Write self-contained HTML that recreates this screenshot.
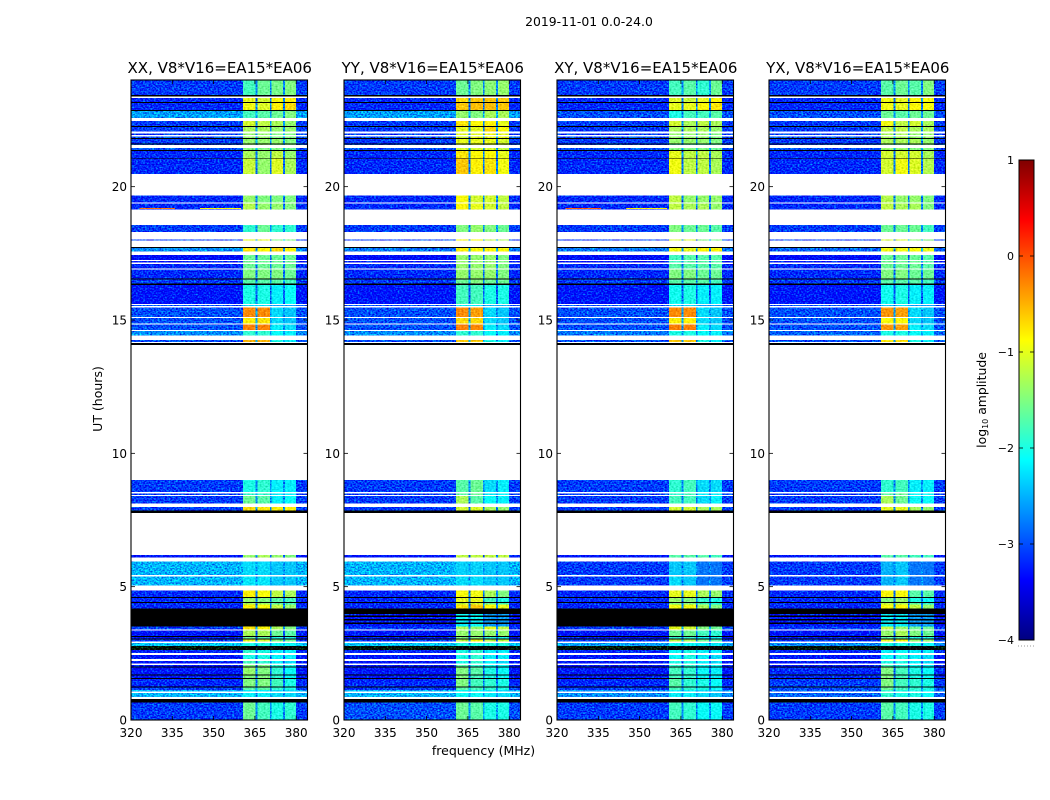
<!DOCTYPE html>
<html lang="en">
<head>
<meta charset="utf-8">
<title>2019-11-01 0.0-24.0</title>
<style>
html,body{margin:0;padding:0;background:#fff}
svg{display:block}
text{font-family:"DejaVu Sans","Liberation Sans",sans-serif;fill:#000}
</style>
</head>
<body>
<svg id="chart" xmlns="http://www.w3.org/2000/svg" width="1050" height="800" viewBox="0 0 1050 800">
<defs>
<filter id="speckle" x="0" y="0" width="1" height="1" color-interpolation-filters="sRGB">
<feTurbulence type="fractalNoise" baseFrequency="0.55 0.7" numOctaves="1" seed="7" result="t"/>
<feColorMatrix in="t" type="matrix" values="0 0 0 0 .5  1 0 0 0 0  .3 0 0 0 .35  0 0 0 0 1" result="n"/>
<feComposite in="SourceGraphic" in2="n" operator="arithmetic" k1="0" k2="1" k3="1.7" k4="-.85" result="c"/>
<feComposite in="c" in2="SourceGraphic" operator="in"/>
</filter>
<filter id="speckle-soft" x="0" y="0" width="1" height="1" color-interpolation-filters="sRGB">
<feTurbulence type="fractalNoise" baseFrequency="0.5 0.65" numOctaves="1" seed="3" result="t"/>
<feColorMatrix in="t" type="matrix" values="1 0 0 0 0  1 0 0 0 0  1 0 0 0 0  0 0 0 0 1" result="n"/>
<feComposite in="SourceGraphic" in2="n" operator="arithmetic" k1="0" k2="1" k3=".5" k4="-.25" result="c"/>
<feComposite in="c" in2="SourceGraphic" operator="in"/>
</filter>
<linearGradient id="jet-gradient" x1="0" y1="1" x2="0" y2="0"></linearGradient>
</defs>
<text x="589" y="26" font-size="12.4" text-anchor="middle">2019-11-01 0.0-24.0</text>
<text x="483.5" y="755" font-size="12.5" text-anchor="middle">frequency (MHz)</text>
<text transform="translate(102,399) rotate(-90)" font-size="12.5" text-anchor="middle">UT (hours)</text>
<g id="panels"></g>
<g id="colorbar"></g>
</svg>
<script>
const panelTitles = ["XX, V8*V16=EA15*EA06", "YY, V8*V16=EA15*EA06", "XY, V8*V16=EA15*EA06", "YX, V8*V16=EA15*EA06"];
const xTicks = [320, 335, 350, 365, 380];
const yTicks = [0, 5, 10, 15, 20];
const colorTicks = [-4, -3, -2, -1, 0, 1];
const colorTickLabels = ["\u22124", "\u22123", "\u22122", "\u22121", "0", "1"];
const channelEdgesMHz = [[360.7, 365.2], [365.9, 370.4], [371, 375.2], [375.9, 380]];
const rowTopHours = [24,23.44,23.33,23.17,23.13,22.87,22.83,22.47,22.27,22.24,22,21.89,21.82,21.78,21.62,21.58,21.45,21.37,21.34,21.08,21.05,19.67,19.36,18.56,18.02,17.73,17.7,17.44,17.21,17.1,16.9,16.56,16.51,16.36,16.32,15.56,15.47,15.07,14.83,14.59,14.25,14.13,9,8.5,8.4,7.99,7.85,6.19,5.95,5.38,4.85,4.62,4.57,4.42,4.38,4.34,4.19,4.12,3.97,3.91,3.86,3.79,3.74,3.65,3.6,3.5,3.35,3.15,3.11,3.06,3.02,2.89,2.77,2.62,2.44,2.22,2.06,2,1.96,1.71,1.66,1.57,1.54,1.25,1.21,1.12,1.02,0.79,0.66];
const rowBottomHours = [23.44,23.39,23.17,23.13,22.87,22.83,22.58,22.27,22.24,22.06,21.94,21.82,21.78,21.62,21.58,21.56,21.37,21.34,21.08,21.05,20.47,19.4,19.15,18.3,17.98,17.7,17.56,17.25,17.15,16.94,16.56,16.51,16.36,16.32,15.6,15.52,15.11,14.87,14.62,14.41,14.18,14.07,8.55,8.44,8.11,7.85,7.77,6.09,5.43,5.04,4.62,4.57,4.42,4.38,4.34,4.19,4.12,3.97,3.91,3.86,3.79,3.74,3.65,3.6,3.5,3.4,3.15,3.11,3.06,3.02,2.94,2.77,2.62,2.52,2.29,2.11,2,1.96,1.71,1.66,1.57,1.54,1.25,1.21,1.12,1.06,0.87,0.66,0];
const K = null;
const levelsXX = [
[-3.1,-1.8,-1.6,-1.55,-1.5],K,[-3.2,-1,-1.1,-.9,-.8],K,[-3.2,-.95,-1.05,-.8,-.7],K,[-2.6,-1.8,-1.7,-1.6,-1.5],
[-3.1,-1.1,-1.2,-1.3,-1.4],K,[-3.1,-1.3,-1.3,-1.4,-1.4],[-3.1,-1.4,-1.4,-1.5,-1.5],[-3,-1.4,-1.4,-1.5,-1.5],K,
[-3.1,-1.4,-1.4,-1.4,-1.5],K,[-3,-1.4,-1.4,-1.5,-1.5],[-3,-1.5,-1.5,-1.5,-1.6],K,[-3.2,-1.3,-1.4,-1.2,-1.4],K,
[-3.2,-1.15,-1.4,-1.05,-1.3],[-3.2,-1.4,-1.5,-1.5,-1.5],[-3.2,-1.25,-1.4,-1.4,-1.5],[-3.1,-1.9,-1.6,-1.9,-1.9],
[-3.1,-1,-1,-1.5,-1.5],K,[-2.7,-.75,-.85,-.7,-.85],[-3.4,-1.6,-1.6,-1.6,-1.6],[-3.3,-1.6,-1.6,-1.6,-1.6],
[-3.2,-1.6,-1.6,-1.6,-1.6],[-3.2,-1.5,-1.5,-1.5,-1.6],K,[-3.1,-1.7,-1.7,-1.7,-1.8],K,[-3.3,-2,-2,-2.2,-2.1],
[-3,-2.3,-2.3,-2.6,-2.6],[-3,-.3,-.3,-2.3,-2.4],[-3,-.8,-.75,-2.3,-2.4],[-3,-.25,-.25,-2.2,-2.3],
[-2.7,-1.9,-1.9,-2.1,-2.2],[-3,-.5,-.5,-2,-2.2],K,[-3.1,-2,-1.9,-2.2,-2.2],[-3.1,-1.9,-1.9,-2.2,-2.2],
[-3.1,-1.6,-1.7,-2.2,-2.1],[-3.1,-.7,-.75,-.8,-.8],K,[-3.3,-1.4,-1.3,-1.4,-1.5],[-2.5,-2.3,-2.3,-2.4,-2.4],
[-2.5,-2.25,-2.25,-2.4,-2.4],[-3.2,-.8,-.9,-1.2,-1.3],K,[-3.2,-1.4,-1.5,-1.7,-1.8],K,[-3.2,-1.3,-1.4,-1.7,-1.8],
[-3.2,-.8,-.9,-1.2,-1.4],K,K,K,K,K,K,K,K,K,
[-3.1,-.75,-.85,-1.3,-1.5],[-3.3,-1.3,-1.3,-1.6,-1.7],K,[-3.3,-1.6,-1.7,-2,-2],K,[-3.1,-1,-1.1,-1.5,-1.6],
[-2.4,-2,-2,-2.1,-2.1],[-4.5,-4.5,-4.5,-4.5,-4.5],[-3.2,-1.9,-2,-2.2,-2.2],[-3.3,-2,-2,-2.2,-2.2],[-3.3,-1.8,-1.9,-2.2,-2.3],
[-3.3,-1.5,-1.5,-1.9,-2],K,[-3.3,-1.4,-1.5,-1.9,-2.1],K,[-3.3,-1.5,-1.5,-1.9,-2.1],K,[-3.2,-1.5,-1.5,-1.8,-2],K,
[-3.1,-1.7,-1.7,-1.9,-2],[-2.5,-2.2,-2.2,-2.3,-2.3],[-2.5,-2.2,-2.2,-2.3,-2.3],K,[-3.1,-1.6,-1.8,-2,-1.9]
];
const levelsYY = [
[-3.1,-1.6,-1.5,-1.45,-1.4],K,[-3.2,-.7,-.6,-.6,-.6],K,[-3.2,-.6,-.55,-.55,-.6],K,[-2.6,-1.4,-1.5,-1.3,-1.3],
[-3.1,-.75,-.85,-.8,-1],K,[-3.1,-1,-1,-.7,-.9],[-3.1,-1,-1,-.9,-1],[-3,-1.1,-1,-1,-1],K,
[-3.1,-1,-1,-1,-1.1],K,[-3,-1.1,-1.1,-1.1,-1.2],[-3,-1.1,-1.1,-1.1,-1.2],K,[-3.2,-.75,-.85,-.85,-1],K,
[-3.2,-.6,-.8,-.75,-.95],[-3.2,-.9,-1.1,-1.1,-1.2],[-3.2,-.85,-1,-1.1,-1.2],[-3.1,-1.5,-1.4,-1.5,-1.6],
[-3.1,-.9,-.9,-1.2,-1.3],K,[-2.8,-.8,-.9,-.85,-.9],[-3.4,-1.4,-1.4,-1.4,-1.5],[-3.3,-1.4,-1.4,-1.4,-1.5],
[-3.2,-1.4,-1.4,-1.4,-1.5],[-3.2,-1.4,-1.4,-1.4,-1.5],K,[-3.1,-1.6,-1.5,-1.6,-1.6],K,[-3.3,-1.8,-1.8,-2,-2],
[-3,-2.2,-2.2,-2.5,-2.5],[-3,-.3,-.4,-2.3,-2.4],[-3,-.7,-.7,-2.3,-2.4],[-3,-.25,-.3,-2.2,-2.3],
[-2.7,-1.9,-1.9,-2.1,-2.2],[-3,-.6,-.6,-2,-2.2],K,[-3.1,-1.7,-1.6,-2.3,-2.2],[-3.1,-1.7,-1.6,-2.2,-2.2],
[-3.1,-1.3,-1.7,-2.1,-2.2],[-3.1,-1.1,-1.05,-1.3,-1.4],K,[-3.3,-1.2,-1.2,-1.2,-1.2],[-2.5,-2.35,-2.35,-2.4,-2.4],
[-2.5,-2.3,-2.3,-2.4,-2.4],[-3.2,-.9,-.95,-1.3,-1.5],K,[-3.2,-1,-1,-1.8,-2],K,[-3.2,-1.2,-1.1,-1.6,-1.8],
[-3.2,-.75,-.6,-.85,-1],K,K,[-3.3,-2.1,-2.1,-2.6,-2.6],K,[-3.3,-2.1,-2.1,-2.6,-2.6],K,[-3.3,-2.2,-2.2,-2.6,-2.6],K,[-3.3,-2.2,-2.1,-2.6,-2.6],
[-3.1,-1.3,-1.4,-1,-1.2],[-3.3,-1.4,-1.4,-1.4,-1.4],K,[-3.3,-1.5,-1.5,-1.9,-2],K,[-3.1,-1.2,-.9,-1.2,-1.2],
[-2.4,-2,-2,-2,-2],[-4.5,-4.5,-4.5,-4.5,-4.5],[-3.2,-2,-1.9,-2.2,-2.2],[-3.3,-2,-1.9,-2.2,-2.2],[-3.3,-2,-1.9,-2.2,-2.3],
[-3.3,-1.7,-1.9,-2.1,-2.1],K,[-3.3,-1.5,-1.7,-2,-2.1],K,[-3.3,-1.5,-1.8,-2,-2.1],K,[-3.2,-1.5,-1.8,-1.9,-2],K,
[-3.1,-1.7,-1.8,-1.9,-2],[-2.5,-2.1,-2.1,-2.2,-2.3],[-2.5,-2.1,-2.1,-2.2,-2.3],K,[-3,-1.6,-1.7,-2,-2]
];
const levelsXY = [
[-3.1,-1.8,-1.7,-1.9,-1.6],K,[-3.2,-1.05,-1.15,-1,-.85],K,[-3.2,-1,-1,-.85,-.75],K,[-3,-2,-1.8,-1.8,-1.7],
[-3.1,-1.1,-1.3,-1.2,-1.3],K,[-3.1,-1.3,-1.3,-1.3,-1.4],[-3.1,-1.4,-1.4,-1.4,-1.5],[-3,-1.4,-1.4,-1.4,-1.5],K,
[-3.1,-1.4,-1.4,-1.4,-1.5],K,[-3,-1.7,-1.7,-1.7,-1.7],[-3,-1.5,-1.5,-1.5,-1.6],K,[-3.2,-1,-1.2,-1.2,-1.3],K,
[-3.2,-.95,-1.2,-1.2,-1.3],[-3.2,-1.2,-1.4,-1.4,-1.4],[-3.2,-1.2,-1.3,-1.3,-1.4],[-3.1,-1.5,-1.6,-1.6,-1.7],
[-3.1,-1.1,-1.1,-1.5,-1.5],K,[-2.8,-.95,-1,-.85,-.85],[-3.4,-1.8,-1.7,-1.7,-1.7],[-3.3,-1.8,-1.7,-1.7,-1.7],
[-3.2,-1.7,-1.7,-1.7,-1.7],[-3.2,-1.5,-1.5,-1.6,-1.6],K,[-3.1,-1.7,-1.7,-1.7,-1.8],K,[-3.3,-2.05,-2,-2.2,-2.2],
[-3,-2.3,-2.3,-2.6,-2.6],[-3,-.3,-.3,-2.3,-2.4],[-3,-.8,-.8,-2.3,-2.4],[-3,-.25,-.25,-2.2,-2.3],
[-2.8,-2,-2,-2.1,-2.2],[-3,-.6,-.6,-2,-2.2],K,[-3.1,-1.9,-1.8,-2.3,-2.3],[-3.1,-1.9,-1.8,-2.2,-2.2],
[-3.1,-1.8,-1.8,-2.3,-2.2],[-3.1,-1.1,-1.1,-1.3,-1.3],K,[-3.3,-1.7,-1.7,-1.7,-1.8],[-3.1,-2.4,-2.4,-2.8,-2.8],
[-3.1,-2.3,-2.4,-2.8,-2.8],[-3.2,-1,-1,-1.3,-1.4],K,[-3.2,-1.4,-1.5,-1.9,-2],K,[-3.2,-1.5,-1.5,-1.8,-2],
[-3.2,-.95,-.95,-1.3,-1.5],K,K,K,K,K,K,K,K,K,
[-3.1,-1,-1.1,-1.5,-1.6],[-3.3,-1.6,-1.6,-1.8,-1.9],K,[-3.3,-1.9,-1.9,-2.1,-2.1],K,[-3.1,-1.2,-1.3,-1.6,-1.7],
[-2.6,-2.1,-2.1,-2.2,-2.2],[-4.5,-4.5,-4.5,-4.5,-4.5],[-3.2,-2.1,-2,-2.2,-2.2],[-3.3,-2.1,-2,-2.2,-2.3],[-3.3,-2,-2,-2.2,-2.3],
[-3.3,-1.9,-1.9,-2.1,-2.1],K,[-3.3,-1.8,-1.9,-2.1,-2.2],K,[-3.3,-1.8,-1.9,-2.1,-2.2],K,[-3.2,-1.7,-1.9,-2,-2.1],K,
[-3.1,-1.8,-1.9,-2,-2.1],[-2.7,-2.2,-2.2,-2.3,-2.4],[-2.7,-2.2,-2.2,-2.3,-2.4],K,[-3.1,-1.8,-1.9,-2.1,-2.1]
];
const levelsYX = [
[-3.1,-1.7,-1.6,-1.7,-1.5],K,[-3.2,-.95,-1,-.85,-.9],K,[-3.2,-.95,-1,-.85,-.9],K,[-3,-1.6,-1.7,-1.6,-1.6],
[-3.1,-.95,-1.2,-1.1,-1.3],K,[-3.1,-1.2,-1.2,-1.3,-1.3],[-3.1,-1.3,-1.3,-1.4,-1.4],[-3,-1.3,-1.3,-1.4,-1.4],K,
[-3.1,-1.3,-1.3,-1.3,-1.4],K,[-3,-1.5,-1.5,-1.5,-1.5],[-3,-1.4,-1.4,-1.5,-1.5],K,[-3.2,-1.1,-1.1,-1.1,-1.3],K,
[-3.2,-1.1,-.95,-1.05,-1.25],[-3.2,-1.25,-1.4,-1.4,-1.5],[-3.2,-1.2,-1.3,-1.3,-1.5],[-3.1,-1.6,-1.6,-1.6,-1.8],
[-3.1,-1.1,-1.1,-1.4,-1.5],K,[-2.9,-.95,-.95,-.9,-1],[-3.4,-1.6,-1.6,-1.6,-1.7],[-3.3,-1.6,-1.6,-1.6,-1.7],
[-3.2,-1.6,-1.6,-1.6,-1.7],[-3.2,-1.5,-1.5,-1.6,-1.6],K,[-3.1,-1.7,-1.7,-1.7,-1.8],K,[-3.3,-2.05,-2,-2.2,-2.2],
[-3,-2.4,-2.3,-2.6,-2.6],[-3,-.35,-.4,-2.3,-2.4],[-3,-.9,-.85,-2.3,-2.4],[-3,-.35,-.4,-2.2,-2.3],
[-2.9,-2,-2,-2.1,-2.2],[-3,-.75,-.7,-2,-2.2],K,[-3.1,-1.9,-1.8,-2.2,-2.2],[-3.1,-1.7,-1.6,-2.1,-2.1],
[-3.1,-1.3,-1.6,-2.1,-2.1],[-3.1,-1,-1,-1.3,-1.4],K,[-3.3,-1.7,-1.7,-1.8,-1.8],[-3.1,-2.5,-2.4,-2.8,-2.8],
[-3.1,-2.5,-2.4,-2.8,-2.8],[-3.2,-.85,-.9,-1.7,-1.7],K,[-3.2,-1.5,-1.4,-2,-2.1],K,[-3.2,-1.2,-1.3,-1.7,-1.9],
[-3.2,-.9,-.85,-1.2,-1.4],K,K,[-3.3,-2.2,-2.2,-2.6,-2.6],K,[-3.3,-2.2,-2.2,-2.6,-2.6],K,[-3.3,-2.2,-2.2,-2.6,-2.6],K,[-3.3,-2.2,-2.2,-2.6,-2.6],
[-3.1,-1.2,-1.4,-1.6,-1.6],[-3.3,-1.4,-1.3,-1.5,-1.6],K,[-3.3,-1.7,-1.7,-2,-2],K,[-3.1,-1,-.9,-1.4,-1.4],
[-2.7,-2,-2,-2,-2.1],[-4.5,-4.5,-4.5,-4.5,-4.5],[-3.2,-2.2,-2.1,-2.2,-2.2],[-3.3,-2.1,-2,-2.2,-2.3],[-3.3,-2,-2,-2.2,-2.3],
[-3.3,-1.8,-2,-2.1,-2.2],K,[-3.2,-1.5,-1.8,-2,-2.1],K,[-3.2,-1.5,-1.8,-2,-2.1],K,[-3.1,-1.5,-1.8,-1.9,-2],K,
[-3,-1.6,-1.8,-1.9,-2],[-2.9,-1.9,-2,-2,-2.1],[-2.9,-1.9,-2,-2,-2.1],K,[-3.1,-1.7,-1.8,-2,-2]
];
const panelLevels = [levelsXX, levelsYY, levelsXY, levelsYX];
const rfiTopHours = [19.2, 19.2];
const rfiBottomHours = [19.16, 19.16];
const rfiStartMHz = [323, 345];
const rfiEndMHz = [336, 360];
const rfiLevelsByPanel = [[-0.2, -0.85], [-3.1, -3.1], [-0.1, -0.8], [-3.1, -3.1]];
const freqMin = 320, freqMax = 384.1, hourMin = 0, hourMax = 24;
const colorMin = -4, colorMax = 1;

const NS = 'http://www.w3.org/2000/svg';
const panelLefts = [131, 344, 557, 769];
const panelWidth = 176.5, plotTop = 80, plotBottom = 720;

function mk(tag, parent, attrs) {
  const e = document.createElementNS(NS, tag);
  for (const k in attrs) e.setAttribute(k, attrs[k]);
  parent.appendChild(e);
  return e;
}
function clamp01(v) { return Math.max(0, Math.min(1, v)); }
function jet(v) {
  if (v < colorMin) return '#000';
  const t = (v - colorMin) / (colorMax - colorMin);
  const r = clamp01(Math.min(4 * t - 1.5, -4 * t + 4.5));
  const g = clamp01(Math.min(4 * t - 0.5, -4 * t + 3.5));
  const b = clamp01(Math.min(4 * t + 0.5, -4 * t + 2.5));
  return 'rgb(' + Math.round(r * 255) + ',' + Math.round(g * 255) + ',' + Math.round(b * 255) + ')';
}
function yScale(h) { return plotBottom - (h - hourMin) / (hourMax - hourMin) * (plotBottom - plotTop); }

const panelsG = document.getElementById('panels');
panelLevels.forEach(function (levels, p) {
  const left = panelLefts[p];
  const xScale = function (f) { return left + (f - freqMin) / (freqMax - freqMin) * panelWidth; };
  const g = mk('g', panelsG, {});
  
  

  const bgG = mk('g', g, { filter: 'url(#speckle)', 'shape-rendering': 'crispEdges' });
  
  
  const chG = mk('g', g, { filter: 'url(#speckle-soft)', 'shape-rendering': 'crispEdges' });
  
  
  const blackG = mk('g', g, { 'shape-rendering': 'crispEdges' });
  
  

  rowTopHours.forEach(function (top, i) {
    const y0 = yScale(top), y1 = yScale(rowBottomHours[i]);
    const row = levels[i];
    if (!row) {
      const b = mk('rect', blackG, { x: xScale(freqMin), y: y0, width: panelWidth, height: y1 - y0, fill: '#000' });
      
      
      return;
    }
    const base = mk('rect', bgG, { x: xScale(freqMin), y: y0, width: panelWidth, height: y1 - y0, fill: jet(row[0]) });
    
    
    channelEdgesMHz.forEach(function (edge, c) {
      const next = channelEdgesMHz[c + 1];
      const cell = mk('rect', chG, { x: xScale(edge[0]), y: y0, width: xScale(edge[1]) - xScale(edge[0]), height: y1 - y0, fill: jet(row[c + 1]) });
      
      
      if (next && row[0] > colorMin) {
        const gap = mk('rect', bgG, { x: xScale(edge[1]), y: y0, width: xScale(next[0]) - xScale(edge[1]), height: y1 - y0, fill: jet(Math.min(row[0] + 0.4, -2.6)) });
        
        
      }
    });
  });

  rfiTopHours.forEach(function (top, i) {
    const y0 = yScale(top), y1 = yScale(rfiBottomHours[i]);
    const streak = mk('rect', chG, { x: xScale(rfiStartMHz[i]), y: y0, width: xScale(rfiEndMHz[i]) - xScale(rfiStartMHz[i]), height: y1 - y0, fill: jet(rfiLevelsByPanel[p][i]) });
    
    
  });

  const frame = mk('rect', g, { x: left, y: plotTop, width: panelWidth, height: plotBottom - plotTop, fill: 'none', stroke: '#000', 'stroke-width': 1.1 });
  
  

  const title = mk('text', g, { x: left + panelWidth / 2 + 0.5, y: 73, 'font-size': 15, 'text-anchor': 'middle' });
  
  
  title.textContent = panelTitles[p];

  xTicks.forEach(function (t) {
    const x = xScale(t);
    const t1 = mk('line', g, { x1: x, x2: x, y1: plotBottom, y2: plotBottom - 4, stroke: '#000', 'stroke-width': 0.8 });
    
    
    const t2 = mk('line', g, { x1: x, x2: x, y1: plotTop, y2: plotTop + 4, stroke: '#000', 'stroke-width': 0.8 });
    
    
    const l = mk('text', g, { x: x, y: 737, 'font-size': 12, 'text-anchor': 'middle' });
    
    
    l.textContent = t;
  });
  yTicks.forEach(function (t) {
    const y = yScale(t);
    const t1 = mk('line', g, { x1: left, x2: left + 4, y1: y, y2: y, stroke: '#000', 'stroke-width': 0.8 });
    
    
    const t2 = mk('line', g, { x1: left + panelWidth, x2: left + panelWidth - 4, y1: y, y2: y, stroke: '#000', 'stroke-width': 0.8 });
    
    
    const l = mk('text', g, { x: left - 4, y: y + 4.5, 'font-size': 12, 'text-anchor': 'end' });
    
    
    l.textContent = t;
  });
});

/* colorbar */
const grad = document.getElementById('jet-gradient');
for (let i = 0; i <= 32; i++) {
  const f = i / 32;
  mk('stop', grad, { offset: f, 'stop-color': jet(colorMin + f * (colorMax - colorMin)) });
}
const cb = document.getElementById('colorbar');
const cbLeft = 1019, cbWidth = 15, cbTop = 160, cbBottom = 640;
const cbScale = function (v) { return cbBottom - (v - colorMin) / (colorMax - colorMin) * (cbBottom - cbTop); };
const cbBar = mk('rect', cb, { x: cbLeft, y: cbTop, width: cbWidth, height: cbBottom - cbTop, fill: 'url(#jet-gradient)', stroke: '#000', 'stroke-width': 1 });


colorTicks.forEach(function (t, i) {
  const y = cbScale(t);
  const a = mk('line', cb, { x1: cbLeft, x2: cbLeft + 4, y1: y, y2: y, stroke: '#000', 'stroke-width': 0.8 });
  
  
  const b = mk('line', cb, { x1: cbLeft + cbWidth, x2: cbLeft + cbWidth - 4, y1: y, y2: y, stroke: '#000', 'stroke-width': 0.8 });
  
  
  const l = mk('text', cb, { x: cbLeft - 5, y: y + 4, 'font-size': 11, 'text-anchor': 'end' });
  
  
  l.textContent = colorTickLabels[i];
});
const dots = mk('line', cb, { x1: 1018, x2: 1035, y1: 646, y2: 646, stroke: '#999', 'stroke-width': 1, 'stroke-dasharray': '1 2' });


const cbLabel = mk('text', cb, { transform: 'translate(986,400) rotate(-90)', 'font-size': 12.4, 'text-anchor': 'middle' });


cbLabel.appendChild(document.createTextNode('log'));
const sub = mk('tspan', cbLabel, { 'font-size': 8, dy: 2 });
sub.textContent = '10';
const rest = mk('tspan', cbLabel, { dy: -2 });
rest.textContent = ' amplitude';
</script>
</body>
</html>
